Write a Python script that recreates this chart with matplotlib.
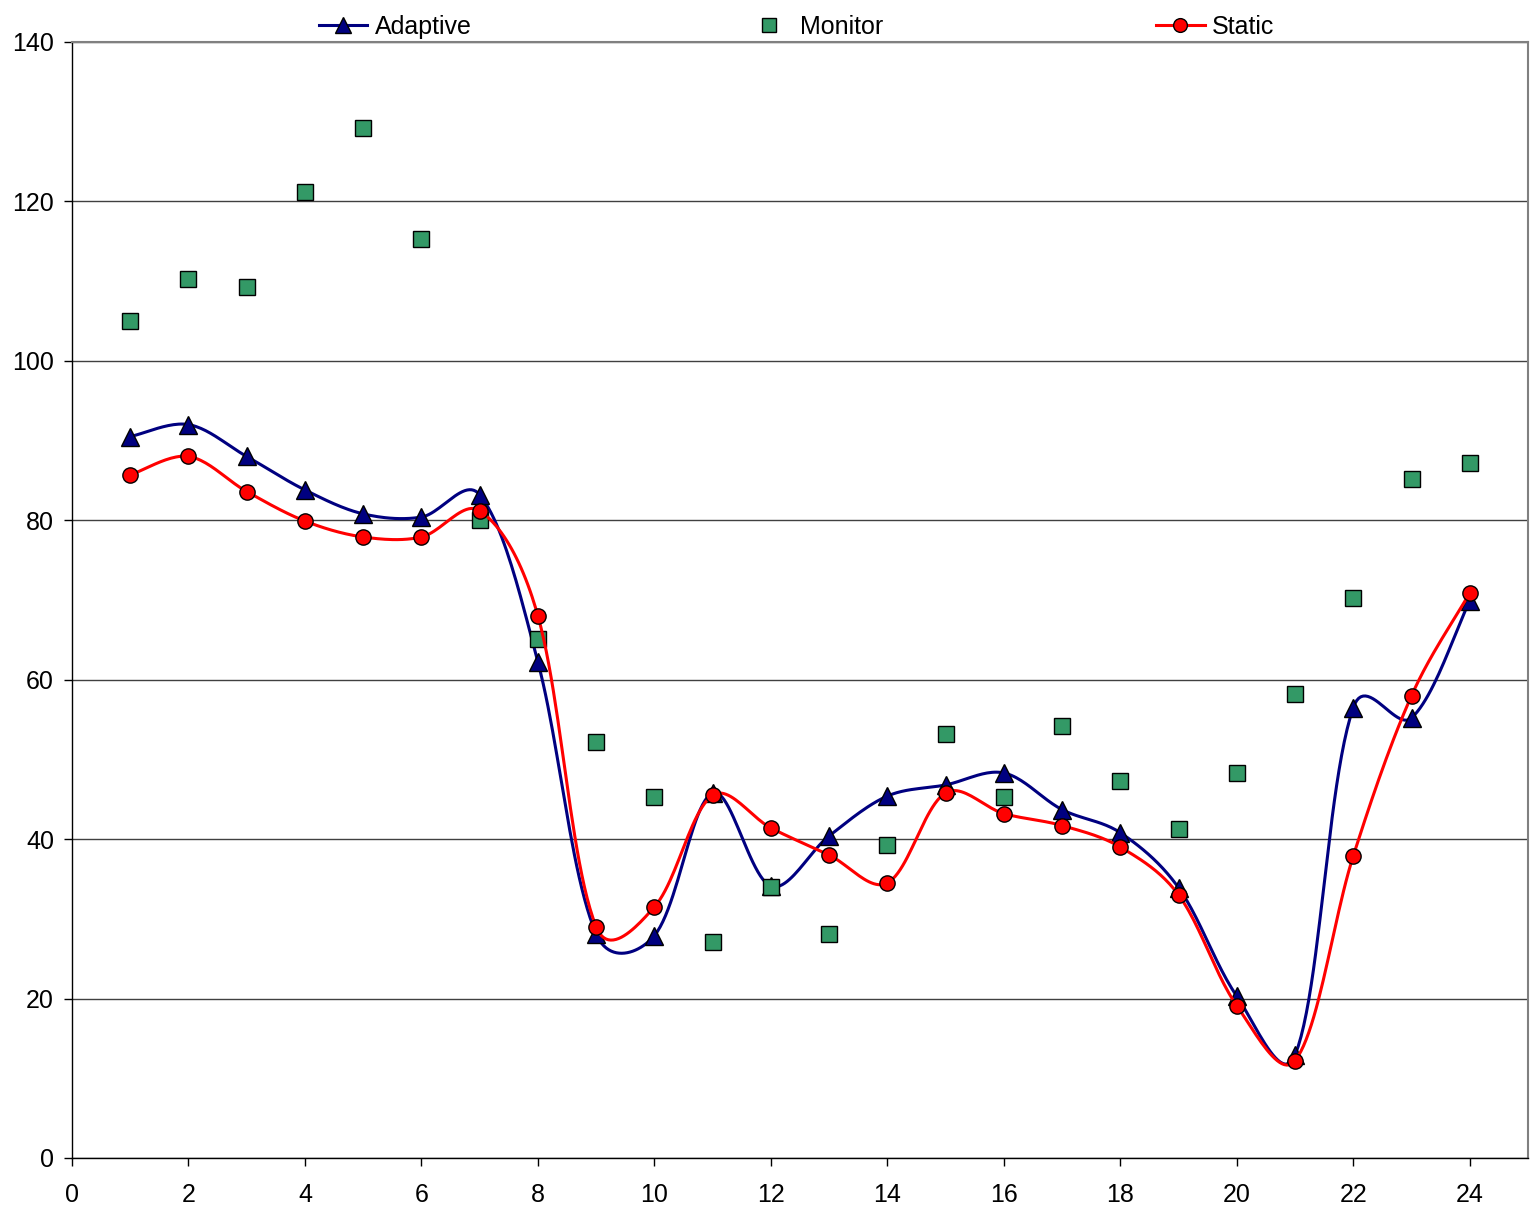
import numpy as np
import matplotlib
matplotlib.use("Agg")
import matplotlib.pyplot as plt

plt.rcParams['font.family'] = ['Liberation Sans', 'DejaVu Sans']

hours = list(range(1, 25))
adaptive = [90.5, 92.0, 88.0, 83.8, 80.8, 80.4, 83.2, 62.2, 28.1, 27.9, 45.8, 34.1,
            40.4, 45.4, 46.8, 48.3, 43.7, 40.8, 33.9, 20.3, 12.9, 56.5, 55.2, 69.9]
monitor = [105.0, 110.3, 109.3, 121.2, 129.2, 115.3, 80.0, 65.1, 52.2, 45.3, 27.1, 34.0,
           28.1, 39.3, 53.2, 45.3, 54.2, 47.3, 41.3, 48.3, 58.2, 70.3, 85.2, 87.2]
static = [85.7, 88.0, 83.6, 79.9, 77.9, 77.9, 81.2, 68.0, 29.0, 31.5, 45.5, 41.4,
          38.0, 34.5, 45.8, 43.2, 41.7, 39.0, 33.0, 19.1, 12.2, 37.9, 58.0, 70.9]

STEPS = 24
# rough x/y scale of the plot area, so segment lengths are measured on screen
ASPECT = (58.2, 7.97)


def smooth(x, y, steps=STEPS):
    """Smoothed line: cubic Bezier per segment. Handles sit between plain
    Catmull-Rom and a version shortened on segments shorter than their
    neighbours."""
    p = np.column_stack([x, y]).astype(float)
    p = np.vstack([p[0], p, p[-1]])
    seg = np.hypot(np.diff(p[:, 0]) * ASPECT[0], np.diff(p[:, 1]) * ASPECT[1])
    t = np.linspace(0, 1, steps, endpoint=False)[:, None]
    out = []
    for i in range(1, len(p) - 2):
        p0, p3 = p[i], p[i + 1]
        li = seg[i]
        w1 = li / (seg[i - 1] + li) if seg[i - 1] + li > 0 else 0.5
        w2 = li / (seg[i + 1] + li) if seg[i + 1] + li > 0 else 0.5
        w1 = 0.5 * (w1 + 0.5)
        w2 = 0.5 * (w2 + 0.5)
        c1 = p0 + (p[i + 1] - p[i - 1]) * w1 / 3
        c2 = p3 - (p[i + 2] - p[i]) * w2 / 3
        out.append((1 - t) ** 3 * p0 + 3 * (1 - t) ** 2 * t * c1
                   + 3 * (1 - t) * t ** 2 * c2 + t ** 3 * p3)
    out.append(p[-2][None, :])
    out = np.vstack(out)
    return out[:, 0], out[:, 1]


fig = plt.figure(figsize=(15.32, 12.09), dpi=100)
ax = fig.add_axes([0.047, 0.0422, 0.9504, 0.9231])

xa, ya = smooth(hours, adaptive)
ax.plot(xa, ya, color='#000080', lw=2.2, marker='^', markevery=STEPS,
        markersize=12.5, markerfacecolor='#000080', markeredgecolor='black',
        markeredgewidth=1, label='Adaptive', zorder=3)
ax.plot(hours, monitor, ls='none', marker='s', markersize=11,
        markerfacecolor='#339966', markeredgecolor='black', markeredgewidth=1,
        label='Monitor', zorder=4)
xs, ys = smooth(hours, static)
ax.plot(xs, ys, color='#ff0000', lw=2.2, marker='o', markevery=STEPS,
        markersize=11, markerfacecolor='#ff0000', markeredgecolor='black',
        markeredgewidth=1, label='Static', zorder=5)

ax.set_xlim(0, 25)
ax.set_ylim(0, 140)
ax.set_xticks(range(0, 25, 2))
ax.set_yticks(range(0, 141, 20))
ax.yaxis.grid(True, color='#404040', lw=1)
ax.set_axisbelow(True)
for side in ('top', 'right'):
    ax.spines[side].set_color('#808080')
    ax.spines[side].set_linewidth(1.5)
for side in ('left', 'bottom'):
    ax.spines[side].set_color('black')
    ax.spines[side].set_linewidth(1)
ax.tick_params(labelsize=18, length=6, width=1, direction='out')
ax.tick_params(axis='x', pad=12)
ax.tick_params(axis='y', pad=7)

fig.legend(loc='lower left', bbox_to_anchor=(0.208, 0.968, 0.624, 0.03),
           mode='expand', ncol=3, frameon=False, fontsize=18, borderpad=0,
           borderaxespad=0, handlelength=1.95, handletextpad=0.3,
           markerscale=0.9)

fig.savefig('out.png', dpi=100)
